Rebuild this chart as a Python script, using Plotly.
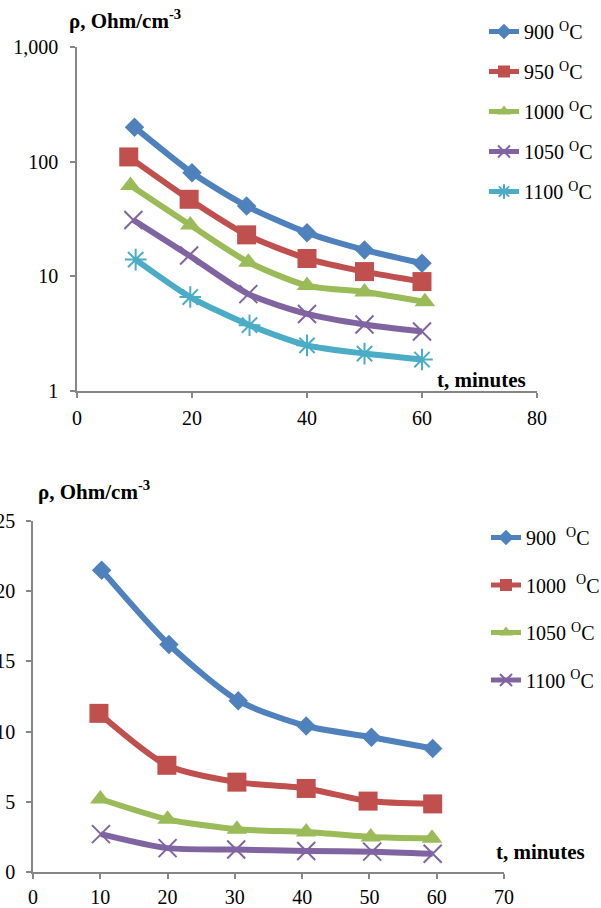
import plotly.graph_objects as go

# ---------------- Data: top chart (log scale) ----------------
top_names = ["900 <sup>O</sup>C", "950 <sup>O</sup>C", "1000 <sup>O</sup>C", "1050 <sup>O</sup>C", "1100 <sup>O</sup>C"]
top_x = [
    [10, 20, 29.5, 40, 50, 60],
    [9, 19.5, 29.5, 40, 50, 60],
    [9.3, 19.7, 29.8, 40, 50, 60.5],
    [9.8, 19.5, 29.8, 40, 50, 60],
    [10.2, 19.7, 30, 40, 50, 60],
]
top_y = [
    [200, 80, 41, 24, 17, 13],
    [110, 47, 23, 14.3, 11, 9],
    [62, 28, 13.3, 8.3, 7.3, 6],
    [31, 15.2, 7, 4.7, 3.8, 3.3],
    [14, 6.6, 3.75, 2.5, 2.12, 1.88],
]
top_yticks = [1, 10, 100, 1000]
top_yticktext = ["1", "10", "100", "1,000"]
top_xticks = [0, 20, 40, 60, 80]

# ---------------- Data: bottom chart (linear scale) ----------------
bot_names = ["900  <sup>O</sup>C", "1000  <sup>O</sup>C", "1050 <sup>O</sup>C", "1100 <sup>O</sup>C"]
bot_x = [
    [10.2, 20.2, 30.5, 40.6, 50.3, 59.4],
    [9.8, 19.9, 30.3, 40.6, 49.8, 59.4],
    [10, 20, 30.3, 40.6, 50.2, 59.3],
    [10.1, 20, 30.2, 40.6, 50.4, 59.4],
]
bot_y = [
    [21.5, 16.2, 12.2, 10.4, 9.6, 8.8],
    [11.3, 7.6, 6.4, 5.95, 5.05, 4.85],
    [5.2, 3.75, 3.05, 2.85, 2.5, 2.4],
    [2.7, 1.7, 1.6, 1.5, 1.45, 1.3],
]
bot_yticks = [0, 5, 10, 15, 20, 25]
bot_xticks = [0, 10, 20, 30, 40, 50, 60, 70]

colors = ["#4F81BD", "#C0504D", "#9BBB59", "#8064A2", "#4BACC6"]
symbols = ["diamond", "square", "triangle-up", "x-thin-open", "asterisk-open"]
sizes = [15, 19, 18, 18, 18]

W, H = 601, 908
FONT = "Liberation Serif, Times New Roman, Times, serif"

def xd(a, b):
    return [a / W, b / W]

def yd(top, bottom):
    return [1 - bottom / H, 1 - top / H]

fig = go.Figure()

for i, name in enumerate(top_names):
    open_sym = symbols[i].endswith("open")
    fig.add_trace(go.Scatter(
        x=top_x[i], y=top_y[i], name=name, mode="lines+markers",
        line=dict(color=colors[i], width=6, shape="spline", smoothing=0.7),
        marker=dict(symbol=symbols[i], size=sizes[i], color=colors[i],
                    line=dict(color=colors[i], width=2 if open_sym else 0)),
        xaxis="x", yaxis="y", legend="legend", legendgroup="t%d" % i,
    ))

for i, name in enumerate(bot_names):
    open_sym = symbols[i].endswith("open")
    fig.add_trace(go.Scatter(
        x=bot_x[i], y=bot_y[i], name=name, mode="lines+markers",
        line=dict(color=colors[i], width=6, shape="spline", smoothing=0.7),
        marker=dict(symbol=symbols[i], size=sizes[i], color=colors[i],
                    line=dict(color=colors[i], width=2 if open_sym else 0)),
        xaxis="x2", yaxis="y2", legend="legend2", legendgroup="b%d" % i,
    ))

axis_common = dict(
    showline=True, linecolor="#868686", linewidth=1.5,
    ticks="outside", ticklen=5, tickwidth=1.5, tickcolor="#868686",
    showgrid=False, zeroline=False, automargin=False,
    tickfont=dict(family=FONT, size=20, color="black"),
)

fig.update_layout(
    width=W, height=H,
    margin=dict(l=0, r=0, t=0, b=0, pad=0, autoexpand=False),
    paper_bgcolor="white", plot_bgcolor="white",
    font=dict(family=FONT, size=20, color="black"),
    xaxis=dict(domain=xd(77, 537), range=[0, 80], tickvals=top_xticks,
               anchor="y", ticklabelstandoff=3, **axis_common),
    yaxis=dict(domain=yd(47, 391), type="log", range=[0, 3], tickvals=top_yticks,
               ticktext=top_yticktext, anchor="x", ticklabelstandoff=8, **axis_common),
    xaxis2=dict(domain=xd(33, 504), range=[0, 70], tickvals=bot_xticks,
                anchor="y2", ticklabelstandoff=1, **axis_common),
    yaxis2=dict(domain=yd(521, 872), range=[0, 25], tickvals=bot_yticks,
                anchor="x2", ticklabelstandoff=7, **axis_common),
    legend=dict(x=484 / W, y=1 - 12 / H, xanchor="left", yanchor="top",
                bgcolor="rgba(0,0,0,0)", tracegroupgap=11,
                font=dict(family=FONT, size=20, color="black"),
                itemsizing="constant"),
    legend2=dict(x=486 / W, y=1 - 518 / H, xanchor="left", yanchor="top",
                 bgcolor="rgba(0,0,0,0)", tracegroupgap=18.5,
                 font=dict(family=FONT, size=20, color="black"),
                 itemsizing="constant"),
    showlegend=True,
)

title_font = dict(family=FONT, size=21, color="black")
fig.add_annotation(text="<b>ρ, Ohm/cm<sup>-3</sup></b>", xref="paper", yref="paper",
                   x=67 / W, y=1 - 20 / H, xanchor="left", yanchor="middle",
                   showarrow=False, font=title_font)
fig.add_annotation(text="<b>t, minutes</b>", xref="paper", yref="paper",
                   x=435 / W, y=1 - 380 / H, xanchor="left", yanchor="middle",
                   showarrow=False, font=title_font)
fig.add_annotation(text="<b>ρ, Ohm/cm<sup>-3</sup></b>", xref="paper", yref="paper",
                   x=36 / W, y=1 - 490 / H, xanchor="left", yanchor="middle",
                   showarrow=False, font=title_font)
fig.add_annotation(text="<b>t, minutes</b>", xref="paper", yref="paper",
                   x=494 / W, y=1 - 852 / H, xanchor="left", yanchor="middle",
                   showarrow=False, font=title_font)

fig.write_html(
    "out.html",
    post_script="document.body.style.margin='0';document.body.style.overflow='hidden';",
)
